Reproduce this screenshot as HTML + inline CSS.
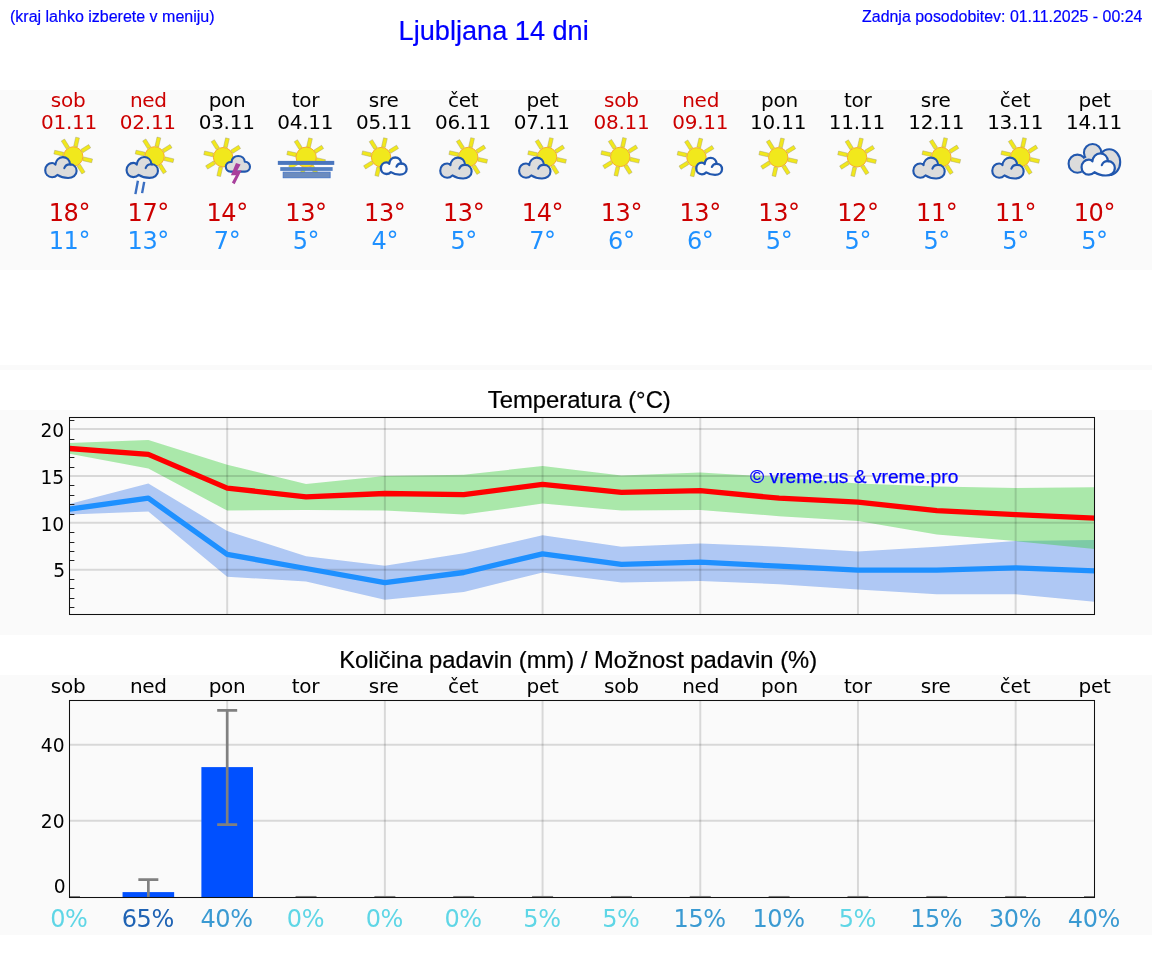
<!DOCTYPE html>
<html lang="sl"><head><meta charset="utf-8"><title>Ljubljana 14 dni</title>
<style>
html,body{margin:0;padding:0;background:#fff;}
body{width:1152px;height:975px;position:relative;overflow:hidden;font-family:"Liberation Sans",Arial,sans-serif;}
.band{position:absolute;left:0;width:1152px;background:#fafafa;}
.hdr{position:absolute;color:#0000ff;white-space:nowrap;line-height:1;-webkit-text-stroke:.2px #0000ff;}
#hint{left:10px;top:9px;font-size:16px;}
#title{left:398.6px;top:16.5px;font-size:27.15px;}
#upd{right:9.6px;top:9px;font-size:15.93px;}
.ct{position:absolute;color:#000;white-space:nowrap;line-height:1;font-size:23.83px;-webkit-text-stroke:.22px #000;}
svg{position:absolute;left:0;top:0;}
svg text{font-family:"DejaVu Sans","Liberation Sans",sans-serif;}
.d{font-size:20px;text-anchor:middle;letter-spacing:-.25px;}
.t{font-size:24px;text-anchor:middle;letter-spacing:-.4px;}
.yl{font-size:18.67px;text-anchor:end;}
.wk{fill:#cc0000;}
.hi{fill:#cc0000;}
.lo{fill:#1e90ff;}
</style></head><body>
<div class="band" style="top:90px;height:180px"></div>
<div class="band" style="top:365px;height:5px"></div>
<div class="band" style="top:410px;height:225px"></div>
<div class="band" style="top:675px;height:260px"></div>
<div class="hdr" id="hint">(kraj lahko izberete v meniju)</div>
<div class="hdr" id="title">Ljubljana 14 dni</div>
<div class="hdr" id="upd">Zadnja posodobitev: 01.11.2025 - 00:24</div>
<div class="ct" id="ct1" style="left:487.8px;top:388px">Temperatura (°C)</div>
<div class="ct" id="ct2" style="left:339.25px;top:648px;font-size:23.76px">Količina padavin (mm) / Možnost padavin (%)</div>
<svg width="1152" height="975" viewBox="0 0 1152 975">
<g id="forecast">
<g class="day">
<text class="d wk" x="68.1" y="106.9">sob</text>
<text class="d wk" x="69" y="129.3">01.11</text>
<g class="icon" transform="translate(0 0)"><g transform="translate(73.2 156.5)"><rect x="10.2" y="-1.9" width="9.2" height="3.8" fill="#f1e81c" stroke="#9c986c" stroke-opacity=".55" stroke-width=".7" transform="rotate(13)"/><rect x="10.2" y="-1.9" width="9.2" height="3.8" fill="#f1e81c" stroke="#9c986c" stroke-opacity=".55" stroke-width=".7" transform="rotate(58)"/><rect x="10.2" y="-1.9" width="9.2" height="3.8" fill="#f1e81c" stroke="#9c986c" stroke-opacity=".55" stroke-width=".7" transform="rotate(193)"/><rect x="10.2" y="-1.9" width="9.2" height="3.8" fill="#f1e81c" stroke="#9c986c" stroke-opacity=".55" stroke-width=".7" transform="rotate(238)"/><rect x="10.2" y="-1.9" width="9.2" height="3.8" fill="#f1e81c" stroke="#9c986c" stroke-opacity=".55" stroke-width=".7" transform="rotate(283)"/><rect x="10.2" y="-1.9" width="9.2" height="3.8" fill="#f1e81c" stroke="#9c986c" stroke-opacity=".55" stroke-width=".7" transform="rotate(328)"/><circle r="9.7" fill="#f1e81c" stroke="#f7ae28" stroke-width="1"/></g><g transform="translate(44.1 156) scale(1)"><path d="M8 21.2 C3.8 21.2 1.1 18 1.1 14.2 C1.1 10 4.2 7 8 7 C9.4 7 10.5 7.7 11.3 8.7 C11.6 4.6 14.6 1.1 18.7 1.1 C22.6 1.1 25.6 4 26 8.4 C30 8.4 32.5 11.4 32.5 15 C32.5 19.4 28.6 22 24 22 C20 22 16.4 21 13.3 18.9 C12 20.2 10.2 21.2 8 21.2 Z" fill="#dcdcdc" stroke="#2157ae" stroke-width="2.1" stroke-linejoin="round"/><path d="M26.6 8.5 C23.6 8.1 21.2 9.6 20.2 12.2" fill="none" stroke="#2157ae" stroke-width="2.1" stroke-linecap="round"/></g></g>
<text class="t hi" x="69.4" y="220.7">18°</text>
<text class="t lo" x="69.4" y="248.9">11°</text>
</g>
<g class="day">
<text class="d wk" x="148.35" y="106.9">ned</text>
<text class="d wk" x="147.85" y="129.3">02.11</text>
<g class="icon" transform="translate(0 0)"><g transform="translate(154.55 156.4)"><rect x="10.2" y="-1.9" width="9.2" height="3.8" fill="#f1e81c" stroke="#9c986c" stroke-opacity=".55" stroke-width=".7" transform="rotate(13)"/><rect x="10.2" y="-1.9" width="9.2" height="3.8" fill="#f1e81c" stroke="#9c986c" stroke-opacity=".55" stroke-width=".7" transform="rotate(58)"/><rect x="10.2" y="-1.9" width="9.2" height="3.8" fill="#f1e81c" stroke="#9c986c" stroke-opacity=".55" stroke-width=".7" transform="rotate(193)"/><rect x="10.2" y="-1.9" width="9.2" height="3.8" fill="#f1e81c" stroke="#9c986c" stroke-opacity=".55" stroke-width=".7" transform="rotate(238)"/><rect x="10.2" y="-1.9" width="9.2" height="3.8" fill="#f1e81c" stroke="#9c986c" stroke-opacity=".55" stroke-width=".7" transform="rotate(283)"/><rect x="10.2" y="-1.9" width="9.2" height="3.8" fill="#f1e81c" stroke="#9c986c" stroke-opacity=".55" stroke-width=".7" transform="rotate(328)"/><circle r="9.7" fill="#f1e81c" stroke="#f7ae28" stroke-width="1"/></g><g transform="translate(125.45 155.9) scale(1)"><path d="M8 21.2 C3.8 21.2 1.1 18 1.1 14.2 C1.1 10 4.2 7 8 7 C9.4 7 10.5 7.7 11.3 8.7 C11.6 4.6 14.6 1.1 18.7 1.1 C22.6 1.1 25.6 4 26 8.4 C30 8.4 32.5 11.4 32.5 15 C32.5 19.4 28.6 22 24 22 C20 22 16.4 21 13.3 18.9 C12 20.2 10.2 21.2 8 21.2 Z" fill="#dcdcdc" stroke="#2157ae" stroke-width="2.1" stroke-linejoin="round"/><path d="M26.6 8.5 C23.6 8.1 21.2 9.6 20.2 12.2" fill="none" stroke="#2157ae" stroke-width="2.1" stroke-linecap="round"/></g><path d="M137.9 180.8 L135.4 194.1 M144.2 181.9 L142.1 193.1" stroke="#3b6fc2" stroke-width="2.4" fill="none"/></g>
<text class="t hi" x="148.25" y="220.7">17°</text>
<text class="t lo" x="148.25" y="248.9">13°</text>
</g>
<g class="day">
<text class="d" x="227.09" y="106.9">pon</text>
<text class="d" x="226.69" y="129.3">03.11</text>
<g class="icon" transform="translate(0 0)"><g transform="translate(223.09 157.2)"><rect x="10.2" y="-1.9" width="9.2" height="3.8" fill="#f1e81c" stroke="#9c986c" stroke-opacity=".55" stroke-width=".7" transform="rotate(103)"/><rect x="10.2" y="-1.9" width="9.2" height="3.8" fill="#f1e81c" stroke="#9c986c" stroke-opacity=".55" stroke-width=".7" transform="rotate(148)"/><rect x="10.2" y="-1.9" width="9.2" height="3.8" fill="#f1e81c" stroke="#9c986c" stroke-opacity=".55" stroke-width=".7" transform="rotate(193)"/><rect x="10.2" y="-1.9" width="9.2" height="3.8" fill="#f1e81c" stroke="#9c986c" stroke-opacity=".55" stroke-width=".7" transform="rotate(238)"/><rect x="10.2" y="-1.9" width="9.2" height="3.8" fill="#f1e81c" stroke="#9c986c" stroke-opacity=".55" stroke-width=".7" transform="rotate(283)"/><rect x="10.2" y="-1.9" width="9.2" height="3.8" fill="#f1e81c" stroke="#9c986c" stroke-opacity=".55" stroke-width=".7" transform="rotate(328)"/><circle r="9.7" fill="#f1e81c" stroke="#f7ae28" stroke-width="1"/></g><path transform="translate(195.99 132)" d="M34.6 39.6 C31.4 39.6 29.8 37.2 29.8 34.6 C29.8 31.6 32.4 29.6 35.6 30 C35.6 26.4 38.6 24 42.2 24 C45.8 24 48.6 26.4 48.8 29.8 C52 29.6 54 32 54 34.8 C54 37.6 51.8 39.6 49 39.6 Z" fill="#dcdcdc" stroke="#2157ae" stroke-width="2.1" stroke-linejoin="round"/><polygon transform="translate(195.99 132)" points="40,31.08 44.62,32.62 41.11,38.77 45.66,38.28 38.65,52.18 35.88,50.58 39.88,43.26 34.95,43.26" fill="#a8409c"/></g>
<text class="t hi" x="227.09" y="220.7">14°</text>
<text class="t lo" x="227.09" y="248.9">7°</text>
</g>
<g class="day">
<text class="d" x="305.44" y="106.9">tor</text>
<text class="d" x="305.24" y="129.3">04.11</text>
<g class="icon" transform="translate(0 0)"><g transform="translate(306.14 157.2)"><rect x="10.2" y="-1.9" width="9.2" height="3.8" fill="#f1e81c" stroke="#9c986c" stroke-opacity=".55" stroke-width=".7" transform="rotate(13)"/><rect x="10.2" y="-1.9" width="9.2" height="3.8" fill="#f1e81c" stroke="#9c986c" stroke-opacity=".55" stroke-width=".7" transform="rotate(58)"/><rect x="10.2" y="-1.9" width="9.2" height="3.8" fill="#f1e81c" stroke="#9c986c" stroke-opacity=".55" stroke-width=".7" transform="rotate(103)"/><rect x="10.2" y="-1.9" width="9.2" height="3.8" fill="#f1e81c" stroke="#9c986c" stroke-opacity=".55" stroke-width=".7" transform="rotate(148)"/><rect x="10.2" y="-1.9" width="9.2" height="3.8" fill="#f1e81c" stroke="#9c986c" stroke-opacity=".55" stroke-width=".7" transform="rotate(193)"/><rect x="10.2" y="-1.9" width="9.2" height="3.8" fill="#f1e81c" stroke="#9c986c" stroke-opacity=".55" stroke-width=".7" transform="rotate(238)"/><rect x="10.2" y="-1.9" width="9.2" height="3.8" fill="#f1e81c" stroke="#9c986c" stroke-opacity=".55" stroke-width=".7" transform="rotate(283)"/><rect x="10.2" y="-1.9" width="9.2" height="3.8" fill="#f1e81c" stroke="#9c986c" stroke-opacity=".55" stroke-width=".7" transform="rotate(328)"/><circle r="10.1" fill="#f1e81c" stroke="#f7ae28" stroke-width="1"/></g><rect x="277.84" y="160.9" width="56.4" height="4" fill="#4a76be"/><rect x="280.24" y="167.1" width="52.4" height="3.8" fill="#5480c2"/><rect x="283.14" y="172.1" width="47" height="5.7" fill="#6c8cbe" stroke="#3f72c6" stroke-width=".8"/></g>
<text class="t hi" x="305.94" y="220.7">13°</text>
<text class="t lo" x="305.94" y="248.9">5°</text>
</g>
<g class="day">
<text class="d" x="383.68" y="106.9">sre</text>
<text class="d" x="384.08" y="129.3">05.11</text>
<g class="icon" transform="translate(0 0)"><g transform="translate(381.08 157.1)"><rect x="10.2" y="-1.9" width="9.2" height="3.8" fill="#f1e81c" stroke="#9c986c" stroke-opacity=".55" stroke-width=".7" transform="rotate(103)"/><rect x="10.2" y="-1.9" width="9.2" height="3.8" fill="#f1e81c" stroke="#9c986c" stroke-opacity=".55" stroke-width=".7" transform="rotate(148)"/><rect x="10.2" y="-1.9" width="9.2" height="3.8" fill="#f1e81c" stroke="#9c986c" stroke-opacity=".55" stroke-width=".7" transform="rotate(193)"/><rect x="10.2" y="-1.9" width="9.2" height="3.8" fill="#f1e81c" stroke="#9c986c" stroke-opacity=".55" stroke-width=".7" transform="rotate(238)"/><rect x="10.2" y="-1.9" width="9.2" height="3.8" fill="#f1e81c" stroke="#9c986c" stroke-opacity=".55" stroke-width=".7" transform="rotate(283)"/><rect x="10.2" y="-1.9" width="9.2" height="3.8" fill="#f1e81c" stroke="#9c986c" stroke-opacity=".55" stroke-width=".7" transform="rotate(328)"/><circle r="9.7" fill="#f1e81c" stroke="#f7ae28" stroke-width="1"/></g><g transform="translate(379.98 156.6) scale(0.82)"><path d="M8 21.2 C3.8 21.2 1.1 18 1.1 14.2 C1.1 10 4.2 7 8 7 C9.4 7 10.5 7.7 11.3 8.7 C11.6 4.6 14.6 1.1 18.7 1.1 C22.6 1.1 25.6 4 26 8.4 C30 8.4 32.5 11.4 32.5 15 C32.5 19.4 28.6 22 24 22 C20 22 16.4 21 13.3 18.9 C12 20.2 10.2 21.2 8 21.2 Z" fill="#fbfbfb" stroke="#2157ae" stroke-width="2.8" stroke-linejoin="round"/><path d="M26.6 8.5 C23.6 8.1 21.2 9.6 20.2 12.2" fill="none" stroke="#2157ae" stroke-width="2.8" stroke-linecap="round"/></g></g>
<text class="t hi" x="384.78" y="220.7">13°</text>
<text class="t lo" x="384.78" y="248.9">4°</text>
</g>
<g class="day">
<text class="d" x="463.13" y="106.9">čet</text>
<text class="d" x="462.93" y="129.3">06.11</text>
<g class="icon" transform="translate(0.8 0.5)"><g transform="translate(467.43 156.5)"><rect x="10.2" y="-1.9" width="9.2" height="3.8" fill="#f1e81c" stroke="#9c986c" stroke-opacity=".55" stroke-width=".7" transform="rotate(13)"/><rect x="10.2" y="-1.9" width="9.2" height="3.8" fill="#f1e81c" stroke="#9c986c" stroke-opacity=".55" stroke-width=".7" transform="rotate(58)"/><rect x="10.2" y="-1.9" width="9.2" height="3.8" fill="#f1e81c" stroke="#9c986c" stroke-opacity=".55" stroke-width=".7" transform="rotate(193)"/><rect x="10.2" y="-1.9" width="9.2" height="3.8" fill="#f1e81c" stroke="#9c986c" stroke-opacity=".55" stroke-width=".7" transform="rotate(238)"/><rect x="10.2" y="-1.9" width="9.2" height="3.8" fill="#f1e81c" stroke="#9c986c" stroke-opacity=".55" stroke-width=".7" transform="rotate(283)"/><rect x="10.2" y="-1.9" width="9.2" height="3.8" fill="#f1e81c" stroke="#9c986c" stroke-opacity=".55" stroke-width=".7" transform="rotate(328)"/><circle r="9.7" fill="#f1e81c" stroke="#f7ae28" stroke-width="1"/></g><g transform="translate(438.33 156) scale(1)"><path d="M8 21.2 C3.8 21.2 1.1 18 1.1 14.2 C1.1 10 4.2 7 8 7 C9.4 7 10.5 7.7 11.3 8.7 C11.6 4.6 14.6 1.1 18.7 1.1 C22.6 1.1 25.6 4 26 8.4 C30 8.4 32.5 11.4 32.5 15 C32.5 19.4 28.6 22 24 22 C20 22 16.4 21 13.3 18.9 C12 20.2 10.2 21.2 8 21.2 Z" fill="#dcdcdc" stroke="#2157ae" stroke-width="2.1" stroke-linejoin="round"/><path d="M26.6 8.5 C23.6 8.1 21.2 9.6 20.2 12.2" fill="none" stroke="#2157ae" stroke-width="2.1" stroke-linecap="round"/></g></g>
<text class="t hi" x="463.63" y="220.7">13°</text>
<text class="t lo" x="463.63" y="248.9">5°</text>
</g>
<g class="day">
<text class="d" x="542.58" y="106.9">pet</text>
<text class="d" x="541.78" y="129.3">07.11</text>
<g class="icon" transform="translate(0.8 0.5)"><g transform="translate(546.28 156.5)"><rect x="10.2" y="-1.9" width="9.2" height="3.8" fill="#f1e81c" stroke="#9c986c" stroke-opacity=".55" stroke-width=".7" transform="rotate(13)"/><rect x="10.2" y="-1.9" width="9.2" height="3.8" fill="#f1e81c" stroke="#9c986c" stroke-opacity=".55" stroke-width=".7" transform="rotate(58)"/><rect x="10.2" y="-1.9" width="9.2" height="3.8" fill="#f1e81c" stroke="#9c986c" stroke-opacity=".55" stroke-width=".7" transform="rotate(193)"/><rect x="10.2" y="-1.9" width="9.2" height="3.8" fill="#f1e81c" stroke="#9c986c" stroke-opacity=".55" stroke-width=".7" transform="rotate(238)"/><rect x="10.2" y="-1.9" width="9.2" height="3.8" fill="#f1e81c" stroke="#9c986c" stroke-opacity=".55" stroke-width=".7" transform="rotate(283)"/><rect x="10.2" y="-1.9" width="9.2" height="3.8" fill="#f1e81c" stroke="#9c986c" stroke-opacity=".55" stroke-width=".7" transform="rotate(328)"/><circle r="9.7" fill="#f1e81c" stroke="#f7ae28" stroke-width="1"/></g><g transform="translate(517.18 156) scale(1)"><path d="M8 21.2 C3.8 21.2 1.1 18 1.1 14.2 C1.1 10 4.2 7 8 7 C9.4 7 10.5 7.7 11.3 8.7 C11.6 4.6 14.6 1.1 18.7 1.1 C22.6 1.1 25.6 4 26 8.4 C30 8.4 32.5 11.4 32.5 15 C32.5 19.4 28.6 22 24 22 C20 22 16.4 21 13.3 18.9 C12 20.2 10.2 21.2 8 21.2 Z" fill="#dcdcdc" stroke="#2157ae" stroke-width="2.1" stroke-linejoin="round"/><path d="M26.6 8.5 C23.6 8.1 21.2 9.6 20.2 12.2" fill="none" stroke="#2157ae" stroke-width="2.1" stroke-linecap="round"/></g></g>
<text class="t hi" x="542.48" y="220.7">14°</text>
<text class="t lo" x="542.48" y="248.9">7°</text>
</g>
<g class="day">
<text class="d wk" x="621.32" y="106.9">sob</text>
<text class="d wk" x="621.52" y="129.3">08.11</text>
<g class="icon" transform="translate(0 0)"><g transform="translate(620.22 156.9)"><rect x="10.2" y="-1.9" width="9.2" height="3.8" fill="#f1e81c" stroke="#9c986c" stroke-opacity=".55" stroke-width=".7" transform="rotate(13)"/><rect x="10.2" y="-1.9" width="9.2" height="3.8" fill="#f1e81c" stroke="#9c986c" stroke-opacity=".55" stroke-width=".7" transform="rotate(58)"/><rect x="10.2" y="-1.9" width="9.2" height="3.8" fill="#f1e81c" stroke="#9c986c" stroke-opacity=".55" stroke-width=".7" transform="rotate(103)"/><rect x="10.2" y="-1.9" width="9.2" height="3.8" fill="#f1e81c" stroke="#9c986c" stroke-opacity=".55" stroke-width=".7" transform="rotate(148)"/><rect x="10.2" y="-1.9" width="9.2" height="3.8" fill="#f1e81c" stroke="#9c986c" stroke-opacity=".55" stroke-width=".7" transform="rotate(193)"/><rect x="10.2" y="-1.9" width="9.2" height="3.8" fill="#f1e81c" stroke="#9c986c" stroke-opacity=".55" stroke-width=".7" transform="rotate(238)"/><rect x="10.2" y="-1.9" width="9.2" height="3.8" fill="#f1e81c" stroke="#9c986c" stroke-opacity=".55" stroke-width=".7" transform="rotate(283)"/><rect x="10.2" y="-1.9" width="9.2" height="3.8" fill="#f1e81c" stroke="#9c986c" stroke-opacity=".55" stroke-width=".7" transform="rotate(328)"/><circle r="9.7" fill="#f1e81c" stroke="#f7ae28" stroke-width="1"/></g></g>
<text class="t hi" x="621.32" y="220.7">13°</text>
<text class="t lo" x="621.32" y="248.9">6°</text>
</g>
<g class="day">
<text class="d wk" x="700.67" y="106.9">ned</text>
<text class="d wk" x="700.27" y="129.3">09.11</text>
<g class="icon" transform="translate(0 0.3)"><g transform="translate(696.47 157.1)"><rect x="10.2" y="-1.9" width="9.2" height="3.8" fill="#f1e81c" stroke="#9c986c" stroke-opacity=".55" stroke-width=".7" transform="rotate(103)"/><rect x="10.2" y="-1.9" width="9.2" height="3.8" fill="#f1e81c" stroke="#9c986c" stroke-opacity=".55" stroke-width=".7" transform="rotate(148)"/><rect x="10.2" y="-1.9" width="9.2" height="3.8" fill="#f1e81c" stroke="#9c986c" stroke-opacity=".55" stroke-width=".7" transform="rotate(193)"/><rect x="10.2" y="-1.9" width="9.2" height="3.8" fill="#f1e81c" stroke="#9c986c" stroke-opacity=".55" stroke-width=".7" transform="rotate(238)"/><rect x="10.2" y="-1.9" width="9.2" height="3.8" fill="#f1e81c" stroke="#9c986c" stroke-opacity=".55" stroke-width=".7" transform="rotate(283)"/><rect x="10.2" y="-1.9" width="9.2" height="3.8" fill="#f1e81c" stroke="#9c986c" stroke-opacity=".55" stroke-width=".7" transform="rotate(328)"/><circle r="9.7" fill="#f1e81c" stroke="#f7ae28" stroke-width="1"/></g><g transform="translate(695.37 156.6) scale(0.82)"><path d="M8 21.2 C3.8 21.2 1.1 18 1.1 14.2 C1.1 10 4.2 7 8 7 C9.4 7 10.5 7.7 11.3 8.7 C11.6 4.6 14.6 1.1 18.7 1.1 C22.6 1.1 25.6 4 26 8.4 C30 8.4 32.5 11.4 32.5 15 C32.5 19.4 28.6 22 24 22 C20 22 16.4 21 13.3 18.9 C12 20.2 10.2 21.2 8 21.2 Z" fill="#fbfbfb" stroke="#2157ae" stroke-width="2.8" stroke-linejoin="round"/><path d="M26.6 8.5 C23.6 8.1 21.2 9.6 20.2 12.2" fill="none" stroke="#2157ae" stroke-width="2.8" stroke-linecap="round"/></g></g>
<text class="t hi" x="700.17" y="220.7">13°</text>
<text class="t lo" x="700.17" y="248.9">6°</text>
</g>
<g class="day">
<text class="d" x="779.42" y="106.9">pon</text>
<text class="d" x="778.12" y="129.3">10.11</text>
<g class="icon" transform="translate(0.3 0.4)"><g transform="translate(777.92 156.9)"><rect x="10.2" y="-1.9" width="9.2" height="3.8" fill="#f1e81c" stroke="#9c986c" stroke-opacity=".55" stroke-width=".7" transform="rotate(13)"/><rect x="10.2" y="-1.9" width="9.2" height="3.8" fill="#f1e81c" stroke="#9c986c" stroke-opacity=".55" stroke-width=".7" transform="rotate(58)"/><rect x="10.2" y="-1.9" width="9.2" height="3.8" fill="#f1e81c" stroke="#9c986c" stroke-opacity=".55" stroke-width=".7" transform="rotate(103)"/><rect x="10.2" y="-1.9" width="9.2" height="3.8" fill="#f1e81c" stroke="#9c986c" stroke-opacity=".55" stroke-width=".7" transform="rotate(148)"/><rect x="10.2" y="-1.9" width="9.2" height="3.8" fill="#f1e81c" stroke="#9c986c" stroke-opacity=".55" stroke-width=".7" transform="rotate(193)"/><rect x="10.2" y="-1.9" width="9.2" height="3.8" fill="#f1e81c" stroke="#9c986c" stroke-opacity=".55" stroke-width=".7" transform="rotate(238)"/><rect x="10.2" y="-1.9" width="9.2" height="3.8" fill="#f1e81c" stroke="#9c986c" stroke-opacity=".55" stroke-width=".7" transform="rotate(283)"/><rect x="10.2" y="-1.9" width="9.2" height="3.8" fill="#f1e81c" stroke="#9c986c" stroke-opacity=".55" stroke-width=".7" transform="rotate(328)"/><circle r="9.7" fill="#f1e81c" stroke="#f7ae28" stroke-width="1"/></g></g>
<text class="t hi" x="779.02" y="220.7">13°</text>
<text class="t lo" x="779.02" y="248.9">5°</text>
</g>
<g class="day">
<text class="d" x="857.66" y="106.9">tor</text>
<text class="d" x="856.86" y="129.3">11.11</text>
<g class="icon" transform="translate(0.3 0.4)"><g transform="translate(856.76 156.9)"><rect x="10.2" y="-1.9" width="9.2" height="3.8" fill="#f1e81c" stroke="#9c986c" stroke-opacity=".55" stroke-width=".7" transform="rotate(13)"/><rect x="10.2" y="-1.9" width="9.2" height="3.8" fill="#f1e81c" stroke="#9c986c" stroke-opacity=".55" stroke-width=".7" transform="rotate(58)"/><rect x="10.2" y="-1.9" width="9.2" height="3.8" fill="#f1e81c" stroke="#9c986c" stroke-opacity=".55" stroke-width=".7" transform="rotate(103)"/><rect x="10.2" y="-1.9" width="9.2" height="3.8" fill="#f1e81c" stroke="#9c986c" stroke-opacity=".55" stroke-width=".7" transform="rotate(148)"/><rect x="10.2" y="-1.9" width="9.2" height="3.8" fill="#f1e81c" stroke="#9c986c" stroke-opacity=".55" stroke-width=".7" transform="rotate(193)"/><rect x="10.2" y="-1.9" width="9.2" height="3.8" fill="#f1e81c" stroke="#9c986c" stroke-opacity=".55" stroke-width=".7" transform="rotate(238)"/><rect x="10.2" y="-1.9" width="9.2" height="3.8" fill="#f1e81c" stroke="#9c986c" stroke-opacity=".55" stroke-width=".7" transform="rotate(283)"/><rect x="10.2" y="-1.9" width="9.2" height="3.8" fill="#f1e81c" stroke="#9c986c" stroke-opacity=".55" stroke-width=".7" transform="rotate(328)"/><circle r="9.7" fill="#f1e81c" stroke="#f7ae28" stroke-width="1"/></g></g>
<text class="t hi" x="857.86" y="220.7">12°</text>
<text class="t lo" x="857.86" y="248.9">5°</text>
</g>
<g class="day">
<text class="d" x="935.61" y="106.9">sre</text>
<text class="d" x="936.31" y="129.3">12.11</text>
<g class="icon" transform="translate(0.8 0.5)"><g transform="translate(940.51 156.5)"><rect x="10.2" y="-1.9" width="9.2" height="3.8" fill="#f1e81c" stroke="#9c986c" stroke-opacity=".55" stroke-width=".7" transform="rotate(13)"/><rect x="10.2" y="-1.9" width="9.2" height="3.8" fill="#f1e81c" stroke="#9c986c" stroke-opacity=".55" stroke-width=".7" transform="rotate(58)"/><rect x="10.2" y="-1.9" width="9.2" height="3.8" fill="#f1e81c" stroke="#9c986c" stroke-opacity=".55" stroke-width=".7" transform="rotate(193)"/><rect x="10.2" y="-1.9" width="9.2" height="3.8" fill="#f1e81c" stroke="#9c986c" stroke-opacity=".55" stroke-width=".7" transform="rotate(238)"/><rect x="10.2" y="-1.9" width="9.2" height="3.8" fill="#f1e81c" stroke="#9c986c" stroke-opacity=".55" stroke-width=".7" transform="rotate(283)"/><rect x="10.2" y="-1.9" width="9.2" height="3.8" fill="#f1e81c" stroke="#9c986c" stroke-opacity=".55" stroke-width=".7" transform="rotate(328)"/><circle r="9.7" fill="#f1e81c" stroke="#f7ae28" stroke-width="1"/></g><g transform="translate(911.41 156) scale(1)"><path d="M8 21.2 C3.8 21.2 1.1 18 1.1 14.2 C1.1 10 4.2 7 8 7 C9.4 7 10.5 7.7 11.3 8.7 C11.6 4.6 14.6 1.1 18.7 1.1 C22.6 1.1 25.6 4 26 8.4 C30 8.4 32.5 11.4 32.5 15 C32.5 19.4 28.6 22 24 22 C20 22 16.4 21 13.3 18.9 C12 20.2 10.2 21.2 8 21.2 Z" fill="#dcdcdc" stroke="#2157ae" stroke-width="2.1" stroke-linejoin="round"/><path d="M26.6 8.5 C23.6 8.1 21.2 9.6 20.2 12.2" fill="none" stroke="#2157ae" stroke-width="2.1" stroke-linecap="round"/></g></g>
<text class="t hi" x="936.71" y="220.7">11°</text>
<text class="t lo" x="936.71" y="248.9">5°</text>
</g>
<g class="day">
<text class="d" x="1015.05" y="106.9">čet</text>
<text class="d" x="1015.15" y="129.3">13.11</text>
<g class="icon" transform="translate(0.9 0.5)"><g transform="translate(1019.35 156.5)"><rect x="10.2" y="-1.9" width="9.2" height="3.8" fill="#f1e81c" stroke="#9c986c" stroke-opacity=".55" stroke-width=".7" transform="rotate(13)"/><rect x="10.2" y="-1.9" width="9.2" height="3.8" fill="#f1e81c" stroke="#9c986c" stroke-opacity=".55" stroke-width=".7" transform="rotate(58)"/><rect x="10.2" y="-1.9" width="9.2" height="3.8" fill="#f1e81c" stroke="#9c986c" stroke-opacity=".55" stroke-width=".7" transform="rotate(193)"/><rect x="10.2" y="-1.9" width="9.2" height="3.8" fill="#f1e81c" stroke="#9c986c" stroke-opacity=".55" stroke-width=".7" transform="rotate(238)"/><rect x="10.2" y="-1.9" width="9.2" height="3.8" fill="#f1e81c" stroke="#9c986c" stroke-opacity=".55" stroke-width=".7" transform="rotate(283)"/><rect x="10.2" y="-1.9" width="9.2" height="3.8" fill="#f1e81c" stroke="#9c986c" stroke-opacity=".55" stroke-width=".7" transform="rotate(328)"/><circle r="9.7" fill="#f1e81c" stroke="#f7ae28" stroke-width="1"/></g><g transform="translate(990.25 156) scale(1)"><path d="M8 21.2 C3.8 21.2 1.1 18 1.1 14.2 C1.1 10 4.2 7 8 7 C9.4 7 10.5 7.7 11.3 8.7 C11.6 4.6 14.6 1.1 18.7 1.1 C22.6 1.1 25.6 4 26 8.4 C30 8.4 32.5 11.4 32.5 15 C32.5 19.4 28.6 22 24 22 C20 22 16.4 21 13.3 18.9 C12 20.2 10.2 21.2 8 21.2 Z" fill="#dcdcdc" stroke="#2157ae" stroke-width="2.1" stroke-linejoin="round"/><path d="M26.6 8.5 C23.6 8.1 21.2 9.6 20.2 12.2" fill="none" stroke="#2157ae" stroke-width="2.1" stroke-linecap="round"/></g></g>
<text class="t hi" x="1015.55" y="220.7">11°</text>
<text class="t lo" x="1015.55" y="248.9">5°</text>
</g>
<g class="day">
<text class="d" x="1094.5" y="106.9">pet</text>
<text class="d" x="1094" y="129.3">14.11</text>
<g class="icon" transform="translate(0 0)"><g transform="translate(1062 132)" fill="#dcdcdc" stroke="#2157ae" stroke-width="2.1"><ellipse cx="15.4" cy="31.7" rx="8.8" ry="9.1"/><ellipse cx="47.2" cy="30.1" rx="11" ry="12.9"/><circle cx="30.6" cy="20.65" r="8.65"/><path d="M15 31 L30 22 L47 30 L47 40 L20 40 Z" stroke="none"/></g><g transform="translate(1080.4 152.2) scale(1.06)"><path d="M8 21.2 C3.8 21.2 1.1 18 1.1 14.2 C1.1 10 4.2 7 8 7 C9.4 7 10.5 7.7 11.3 8.7 C11.6 4.6 14.6 1.1 18.7 1.1 C22.6 1.1 25.6 4 26 8.4 C30 8.4 32.5 11.4 32.5 15 C32.5 19.4 28.6 22 24 22 C20 22 16.4 21 13.3 18.9 C12 20.2 10.2 21.2 8 21.2 Z" fill="#fbfbfb" stroke="#2157ae" stroke-width="2.08" stroke-linejoin="round"/><path d="M26.6 8.5 C23.6 8.1 21.2 9.6 20.2 12.2" fill="none" stroke="#2157ae" stroke-width="2.08" stroke-linecap="round"/></g></g>
<text class="t hi" x="1094.4" y="220.7">10°</text>
<text class="t lo" x="1094.4" y="248.9">5°</text>
</g>
</g>
<g id="tempchart">
<clipPath id="c1"><rect x="69.5" y="417.5" width="1025" height="197"/></clipPath>
<g clip-path="url(#c1)">
<polygon points="69.5,504 148.35,483.4 227.19,531 306.04,556.3 384.88,565.7 463.73,553.3 542.58,535.2 621.42,546.7 700.27,543.4 779.12,546.7 857.96,551.4 936.81,546.7 1015.65,541.1 1094.5,539.9 1094.5,601.8 1015.65,594.3 936.81,594.3 857.96,589.6 779.12,584.2 700.27,580.9 621.42,582.6 542.58,572.5 463.73,591.9 384.88,599.7 306.04,581.4 227.19,576.7 148.35,511.6 69.5,514.6" fill="#6495ed" fill-opacity=".5"/>
<polygon points="69.5,443.1 148.35,440.1 227.19,464.7 306.04,484.1 384.88,475.9 463.73,474.8 542.58,466 621.42,475.5 700.27,472.4 779.12,477.1 857.96,483.4 936.81,486.5 1015.65,488.1 1094.5,487.2 1094.5,549.1 1015.65,541.1 936.81,534.5 857.96,520.9 779.12,516.2 700.27,509.9 621.42,510.6 542.58,503.6 463.73,514.6 384.88,510.6 306.04,509.9 227.19,510.6 148.35,468.4 69.5,453.7" fill="#32cd32" fill-opacity=".4"/>
<line x1="69.5" x2="1094.5" y1="569.7" y2="569.7" stroke="#000" stroke-opacity=".135" stroke-width="2"/>
<line x1="69.5" x2="1094.5" y1="522.8" y2="522.8" stroke="#000" stroke-opacity=".135" stroke-width="2"/>
<line x1="69.5" x2="1094.5" y1="475.9" y2="475.9" stroke="#000" stroke-opacity=".135" stroke-width="2"/>
<line x1="69.5" x2="1094.5" y1="429" y2="429" stroke="#000" stroke-opacity=".135" stroke-width="2"/>
<line x1="227.19" x2="227.19" y1="417.5" y2="614.5" stroke="#000" stroke-opacity=".135" stroke-width="2"/>
<line x1="384.88" x2="384.88" y1="417.5" y2="614.5" stroke="#000" stroke-opacity=".135" stroke-width="2"/>
<line x1="542.58" x2="542.58" y1="417.5" y2="614.5" stroke="#000" stroke-opacity=".135" stroke-width="2"/>
<line x1="700.27" x2="700.27" y1="417.5" y2="614.5" stroke="#000" stroke-opacity=".135" stroke-width="2"/>
<line x1="857.96" x2="857.96" y1="417.5" y2="614.5" stroke="#000" stroke-opacity=".135" stroke-width="2"/>
<line x1="1015.65" x2="1015.65" y1="417.5" y2="614.5" stroke="#000" stroke-opacity=".135" stroke-width="2"/>
<line x1="69.5" x2="74.4" y1="607.5" y2="607.5" stroke="#222" stroke-width="1"/>
<line x1="69.5" x2="74.4" y1="598.5" y2="598.5" stroke="#222" stroke-width="1"/>
<line x1="69.5" x2="74.4" y1="588.5" y2="588.5" stroke="#222" stroke-width="1"/>
<line x1="69.5" x2="74.4" y1="579.5" y2="579.5" stroke="#222" stroke-width="1"/>
<line x1="69.5" x2="74.4" y1="560.5" y2="560.5" stroke="#222" stroke-width="1"/>
<line x1="69.5" x2="74.4" y1="551.5" y2="551.5" stroke="#222" stroke-width="1"/>
<line x1="69.5" x2="74.4" y1="542.5" y2="542.5" stroke="#222" stroke-width="1"/>
<line x1="69.5" x2="74.4" y1="532.5" y2="532.5" stroke="#222" stroke-width="1"/>
<line x1="69.5" x2="74.4" y1="514.5" y2="514.5" stroke="#222" stroke-width="1"/>
<line x1="69.5" x2="74.4" y1="504.5" y2="504.5" stroke="#222" stroke-width="1"/>
<line x1="69.5" x2="74.4" y1="495.5" y2="495.5" stroke="#222" stroke-width="1"/>
<line x1="69.5" x2="74.4" y1="485.5" y2="485.5" stroke="#222" stroke-width="1"/>
<line x1="69.5" x2="74.4" y1="467.5" y2="467.5" stroke="#222" stroke-width="1"/>
<line x1="69.5" x2="74.4" y1="457.5" y2="457.5" stroke="#222" stroke-width="1"/>
<line x1="69.5" x2="74.4" y1="448.5" y2="448.5" stroke="#222" stroke-width="1"/>
<line x1="69.5" x2="74.4" y1="439.5" y2="439.5" stroke="#222" stroke-width="1"/>
<line x1="69.5" x2="74.4" y1="420.5" y2="420.5" stroke="#222" stroke-width="1"/>
<polyline points="69.5,448.5 148.35,454.4 227.19,488.1 306.04,496.8 384.88,493.5 463.73,494.7 542.58,484.3 621.42,492.3 700.27,490.7 779.12,498.2 857.96,502.2 936.81,510.6 1015.65,514.6 1094.5,518.1" fill="none" stroke="#ff0000" stroke-width="5.3" stroke-linejoin="round"/>
<polyline points="69.5,509.2 148.35,498.2 227.19,554.4 306.04,568.5 384.88,582.6 463.73,572.5 542.58,553.8 621.42,564.3 700.27,562.2 779.12,566.2 857.96,570.1 936.81,570.1 1015.65,567.8 1094.5,570.9" fill="none" stroke="#1e90ff" stroke-width="5.3" stroke-linejoin="round"/>
</g>
<rect x="69.5" y="417.5" width="1025" height="197" fill="none" stroke="#111" stroke-width="1.05"/>
<text class="yl" x="65.1" y="577">5</text>
<text class="yl" x="64.2" y="531">10</text>
<text class="yl" x="64.2" y="484.2">15</text>
<text class="yl" x="64.2" y="436.8">20</text>
<text x="750.1" y="483.2" style="font-family:'Liberation Sans',Arial,sans-serif;font-size:19.2px" fill="#0000ff" stroke="#0000ff" stroke-width=".25">© vreme.us &amp; vreme.pro</text>
</g>
<g id="precchart">
<text class="d" x="68.1" y="693.1">sob</text>
<text class="d" x="148.35" y="693.1">ned</text>
<text class="d" x="227.09" y="693.1">pon</text>
<text class="d" x="305.44" y="693.1">tor</text>
<text class="d" x="383.68" y="693.1">sre</text>
<text class="d" x="463.13" y="693.1">čet</text>
<text class="d" x="542.58" y="693.1">pet</text>
<text class="d" x="621.32" y="693.1">sob</text>
<text class="d" x="700.67" y="693.1">ned</text>
<text class="d" x="779.42" y="693.1">pon</text>
<text class="d" x="857.66" y="693.1">tor</text>
<text class="d" x="935.61" y="693.1">sre</text>
<text class="d" x="1015.05" y="693.1">čet</text>
<text class="d" x="1094.5" y="693.1">pet</text>
<line x1="69.5" x2="1094.5" y1="820.8" y2="820.8" stroke="#000" stroke-opacity=".135" stroke-width="2"/>
<line x1="69.5" x2="1094.5" y1="744.8" y2="744.8" stroke="#000" stroke-opacity=".135" stroke-width="2"/>
<line x1="227.19" x2="227.19" y1="700.5" y2="897.5" stroke="#000" stroke-opacity=".135" stroke-width="2"/>
<line x1="384.88" x2="384.88" y1="700.5" y2="897.5" stroke="#000" stroke-opacity=".135" stroke-width="2"/>
<line x1="542.58" x2="542.58" y1="700.5" y2="897.5" stroke="#000" stroke-opacity=".135" stroke-width="2"/>
<line x1="700.27" x2="700.27" y1="700.5" y2="897.5" stroke="#000" stroke-opacity=".135" stroke-width="2"/>
<line x1="857.96" x2="857.96" y1="700.5" y2="897.5" stroke="#000" stroke-opacity=".135" stroke-width="2"/>
<line x1="1015.65" x2="1015.65" y1="700.5" y2="897.5" stroke="#000" stroke-opacity=".135" stroke-width="2"/>
<rect x="122.55" y="892.1" width="51.6" height="5.4" fill="#0050ff"/>
<rect x="201.39" y="767.1" width="51.6" height="130.4" fill="#0050ff"/>
<clipPath id="c2"><rect x="69.5" y="700.5" width="1025" height="197.6"/></clipPath>
<g clip-path="url(#c2)" stroke="#808080" stroke-width="2.7" fill="none">
<path d="M148.35 879.6 V897 M138.35 879.6 H158.35"/>
<path d="M227.19 710.4 V824.6 M217.19 710.4 H237.19 M217.19 824.6 H237.19"/>
<path d="M59 897.3 H80"/>
<path d="M295.54 897.3 H316.54"/>
<path d="M374.38 897.3 H395.38"/>
<path d="M453.23 897.3 H474.23"/>
<path d="M532.08 897.3 H553.08"/>
<path d="M610.92 897.3 H631.92"/>
<path d="M689.77 897.3 H710.77"/>
<path d="M768.62 897.3 H789.62"/>
<path d="M847.46 897.3 H868.46"/>
<path d="M926.31 897.3 H947.31"/>
<path d="M1005.15 897.3 H1026.15"/>
<path d="M1084 897.3 H1105"/>
</g>
<rect x="69.5" y="700.5" width="1025" height="197" fill="none" stroke="#111" stroke-width="1.05"/>
<text class="yl" x="64.6" y="752">40</text>
<text class="yl" x="64.6" y="828">20</text>
<text class="yl" x="65.5" y="892.6">0</text>
<text class="t" x="68.9" y="926.8" fill="#5fd6e6">0%</text>
<text class="t" x="147.75" y="926.8" fill="#1f63b4">65%</text>
<text class="t" x="226.59" y="926.8" fill="#3a9ad2">40%</text>
<text class="t" x="305.44" y="926.8" fill="#5fd6e6">0%</text>
<text class="t" x="384.28" y="926.8" fill="#5fd6e6">0%</text>
<text class="t" x="463.13" y="926.8" fill="#5fd6e6">0%</text>
<text class="t" x="541.98" y="926.8" fill="#5fd6e6">5%</text>
<text class="t" x="620.82" y="926.8" fill="#5fd6e6">5%</text>
<text class="t" x="699.67" y="926.8" fill="#3a9ad2">15%</text>
<text class="t" x="778.52" y="926.8" fill="#3a9ad2">10%</text>
<text class="t" x="857.36" y="926.8" fill="#5fd6e6">5%</text>
<text class="t" x="936.21" y="926.8" fill="#3a9ad2">15%</text>
<text class="t" x="1015.05" y="926.8" fill="#3a9ad2">30%</text>
<text class="t" x="1093.9" y="926.8" fill="#3a9ad2">40%</text>
</g>
</svg>
</body></html>
